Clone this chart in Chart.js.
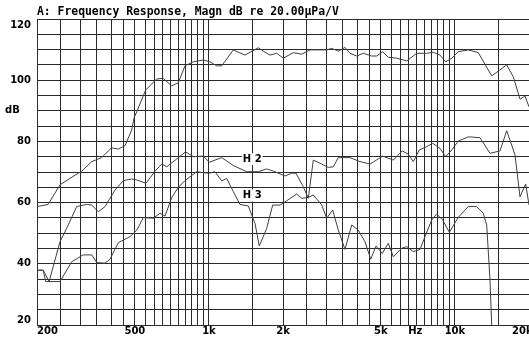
<!DOCTYPE html>
<html>
<head>
<meta charset="utf-8">
<title>Frequency Response</title>
<script src="https://cdn.jsdelivr.net/npm/chart.js@4.4.1/dist/chart.umd.min.js"></script>
<style>
  html, body { margin: 0; padding: 0; background: #fff; }
  #wrap { width: 529px; height: 338px; }
</style>
</head>
<body>
<div id="wrap"><canvas id="frChart" width="529" height="338"></canvas></div>
<script>
// Title and axis text
const titleText = 'A: Frequency Response, Magn dB re 20.00µPa/V';

// Grid lines (Hz / dB)
const xGridFreqs = [200, 250, 300, 350, 400, 450, 500, 550, 600, 650, 700, 750, 800, 850, 900, 950, 1000,
  1500, 2000, 2500, 3000, 3500, 4000, 4500, 5000, 5500, 6000, 6500, 7000, 7500, 8000, 8500, 9000, 9500, 10000,
  15000, 20000];
const yGridValues = [20, 25, 30, 35, 40, 45, 50, 55, 60, 65, 70, 75, 80, 85, 90, 95, 100, 105, 110, 115, 120];

// Tick labels
const xTickFreqs = [200, 500, 1000, 2000, 5000, 10000, 20000];
const xTickLabels = ['200', '500', '1k', '2k', '5k', '10k', '20k'];
const yTickValues = [120, 100, 80, 60, 40, 20];

// Main response
const freqMain = [200, 222, 248, 272, 304, 334, 366, 402, 428, 456, 485, 497, 509, 553, 613, 652, 706, 751, 799, 864,
  949, 1010, 1075, 1127, 1256, 1401, 1587, 1717, 1771, 1886, 2006, 2203, 2382, 2576, 3011, 3155, 3356, 3573, 3745, 3987,
  4242, 4588, 4808, 5085, 5358, 5800, 6369, 6993, 7677, 8166, 8693, 9170, 9701, 10318, 11333, 12444, 14106, 16236,
  17270, 18384, 19264, 20000];
const magMain = [58.7, 59.4, 65.8, 67.9, 70.3, 73.4, 74.7, 77.9, 77.5, 78.6, 83.7, 87.9, 89.7, 96.8, 100.4, 100.6, 98.1, 99.2, 104.7, 106.0,
  106.6, 106.0, 104.7, 104.7, 109.9, 108.2, 110.6, 108.8, 108.2, 108.8, 107.2, 109.0, 108.5, 109.9, 109.9, 110.4, 109.5, 110.7, 108.8, 107.9,
  108.8, 107.9, 107.9, 109.3, 107.5, 107.2, 106.3, 108.8, 108.8, 109.1, 108.2, 106.0, 107.2, 109.3, 109.9, 109.0, 101.4, 105.0,
  101.1, 93.8, 94.8, 91.3];

// 2nd harmonic
const freqH2 = [200, 212, 224, 248, 264, 290, 318, 334, 355, 378, 415, 449, 485, 509, 555, 604, 643, 674, 751, 804,
  864, 949, 1003, 1127, 1256, 1424, 1587, 1717, 1827, 2038, 2170, 2258, 2418, 2534, 2656, 2873, 3056, 3203, 3356, 3745,
  4113, 4516, 5085, 5618, 6109, 6463, 6772, 7163, 7677, 8120, 8693, 9170, 9701, 10318, 11333, 12642, 13884, 15244, 16236, 17543,
  18384, 19392, 20000];
const magH2 = [37.9, 37.9, 34.2, 47.2, 51.6, 58.7, 59.4, 59.2, 57.0, 58.7, 64.1, 67.2, 67.7, 67.4, 66.3, 70.3, 72.6, 71.7, 74.7, 76.6,
  75.0, 75.2, 73.2, 74.7, 72.1, 70.1, 70.1, 71.0, 70.3, 68.7, 69.6, 69.6, 65.2, 61.4, 73.9, 72.6, 71.5, 71.7, 74.7, 74.7,
  73.4, 72.6, 75.2, 73.9, 76.9, 75.8, 73.4, 77.2, 78.3, 79.4, 77.7, 75.0, 77.2, 80.1, 81.5, 81.2, 76.1, 76.9, 83.5, 75.6,
  61.9, 66.1, 59.2];

// 3rd harmonic
const freqH3 = [200, 212, 217, 248, 277, 308, 334, 350, 378, 396, 428, 478, 509, 541, 594, 632, 663, 706, 751, 799,
  892, 949, 1003, 1058, 1127, 1181, 1256, 1337, 1445, 1539, 1602, 1717, 1816, 1945, 2070, 2274, 2382, 2534, 2656, 2873,
  3011, 3184, 3356, 3573, 3806, 4048, 4309, 4546, 4776, 5066, 5358, 5618, 6075, 6369, 6772, 7212, 7556, 8046, 8430, 8918,
  9487, 10318, 11333, 12259, 13038, 13460, 13884, 14106];
const magH3 = [37.9, 37.9, 34.2, 34.2, 40.7, 42.9, 42.9, 40.4, 40.2, 41.5, 46.9, 48.9, 51.0, 55.1, 54.9, 56.5, 55.6, 61.7, 65.0, 67.2,
  70.1, 69.8, 69.6, 70.1, 67.1, 67.9, 63.6, 59.4, 58.9, 53.2, 45.8, 51.6, 59.2, 59.2, 60.6, 62.8, 61.4, 61.7, 62.5, 59.2,
  54.9, 57.6, 51.0, 44.7, 52.7, 51.0, 47.2, 41.5, 45.8, 43.4, 46.7, 42.3, 45.1, 45.6, 44.0, 44.7, 48.9, 54.3, 56.3, 54.3,
  50.3, 55.2, 58.7, 58.7, 56.5, 52.7, 34.7, 20.0];

// Curve labels (text, Hz, dB)
const curveLabels = [
  { text: 'H 2', freq: 1500, db: 74.2 },
  { text: 'H 3', freq: 1500, db: 62.3 }
];

function toPoints(freqs, mags) {
  return freqs.map((f, i) => ({ x: f, y: mags[i] }));
}

// Draw title, tick labels and curve labels
const labelPlugin = {
  id: 'labels',
  afterDraw(chart) {
    const ctx = chart.ctx;
    const xs = chart.scales.x;
    const ys = chart.scales.y;
    const area = chart.chartArea;
    ctx.save();
    ctx.fillStyle = '#000';

    ctx.font = 'bold 11.4px "DejaVu Sans Mono", monospace';
    ctx.textAlign = 'left';
    ctx.textBaseline = 'alphabetic';
    ctx.fillText(titleText, area.left, 15);

    ctx.font = 'bold 10px "DejaVu Sans", sans-serif';
    ctx.textBaseline = 'middle';
    ctx.textAlign = 'right';
    yTickValues.forEach(v => {
      let y = ys.getPixelForValue(v);
      y = Math.min(Math.max(y, area.top + 6), area.bottom - 5);
      ctx.fillText(String(v), 31, y);
    });
    ctx.textAlign = 'left';
    ctx.fillText('dB', 5, 110);

    xTickFreqs.forEach((f, i) => {
      const w = ctx.measureText(xTickLabels[i]).width;
      let x = xs.getPixelForValue(f) - w / 2;
      x = Math.max(area.left, Math.min(x, area.right - 17));
      ctx.fillText(xTickLabels[i], x, 331);
    });
    ctx.textAlign = 'center';
    ctx.fillText('Hz', xs.getPixelForValue(6900), 331);

    curveLabels.forEach(l => {
      const x = xs.getPixelForValue(l.freq);
      const y = ys.getPixelForValue(l.db);
      const w = ctx.measureText(l.text).width;
      ctx.fillStyle = '#fff';
      ctx.fillRect(x - w / 2 - 1, y - 6, w + 2, 12);
      ctx.fillStyle = '#000';
      ctx.fillText(l.text, x, y);
    });
    ctx.restore();
  }
};

const lineStyle = { borderColor: '#404040', borderWidth: 1, pointRadius: 0, tension: 0, fill: false };

new Chart(document.getElementById('frChart'), {
  type: 'line',
  data: {
    datasets: [
      { label: 'Magn', data: toPoints(freqMain, magMain), ...lineStyle },
      { label: 'H 2', data: toPoints(freqH2, magH2), ...lineStyle },
      { label: 'H 3', data: toPoints(freqH3, magH3), ...lineStyle }
    ]
  },
  options: {
    responsive: false,
    animation: false,
    devicePixelRatio: 1,
    layout: { padding: { left: 37, top: 19, right: 0, bottom: 13 } },
    plugins: {
      legend: { display: false },
      tooltip: { enabled: false },
      title: { display: false }
    },
    scales: {
      x: {
        type: 'logarithmic',
        min: 200,
        max: 20000,
        ticks: { display: false },
        grid: { color: '#2a2a2a', lineWidth: 1, drawTicks: false },
        border: { display: false },
        afterBuildTicks: s => { s.ticks = xGridFreqs.map(v => ({ value: v })); },
        afterFit: s => { s.height = 0; }
      },
      y: {
        type: 'linear',
        min: 20,
        max: 120,
        ticks: { display: false },
        grid: { color: '#2a2a2a', lineWidth: 1, drawTicks: false },
        border: { display: false },
        afterBuildTicks: s => { s.ticks = yGridValues.map(v => ({ value: v })); },
        afterFit: s => { s.width = 0; }
      }
    }
  },
  plugins: [labelPlugin]
});
</script>
</body>
</html>
